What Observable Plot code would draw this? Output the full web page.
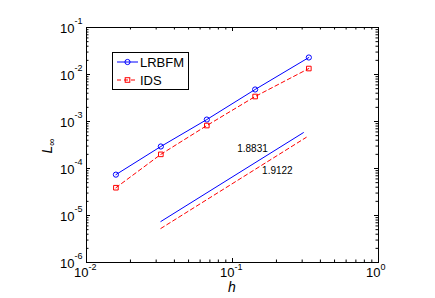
<!DOCTYPE html>
<html><head><meta charset="utf-8">
<script src="https://cdn.jsdelivr.net/npm/d3@7"></script>
<script src="https://cdn.jsdelivr.net/npm/@observablehq/plot@0.6"></script>
<style>body{margin:0;background:#fff}</style>
</head><body><div id="chart"></div>
<script>
// data
const h = [0.0159, 0.0323, 0.0667, 0.1429, 0.3333];
const LRBFM = [7.4e-5, 2.94e-4, 1.1e-3, 4.8e-3, 2.3e-2];
const IDS = [3.9e-5, 2.0e-4, 8.2e-4, 3.4e-3, 1.34e-2];
const slopeBlueX = [0.0323, 0.306];
const slopeBlueY = [7.45e-6, 5.8e-4];
const slopeRedX = [0.0323, 0.32];
const slopeRedY = [5.3e-6, 4.6e-4];
const slopeLabels = ["1.8831", "1.9122"];
const slopeLabelX = [0.137, 0.203];
const slopeLabelY = [2.67e-4, 9.0e-5];
const xMajor = [0.01, 0.1, 1];
const xExp = ["-2", "-1", "0"];
const yMajor = [1e-6, 1e-5, 1e-4, 1e-3, 1e-2, 1e-1];
const yExp = ["-6", "-5", "-4", "-3", "-2", "-1"];

const xMinor = [], yMinor = [];
for (const d of [0.01, 0.1]) for (let k = 2; k <= 9; k++) xMinor.push(d * k);
for (const d of [1e-6, 1e-5, 1e-4, 1e-3, 1e-2]) for (let k = 2; k <= 9; k++) yMinor.push(d * k);

const W = 435, H = 298, ML = 86, MR = 57, MT = 27, MB = 36;
const FW = W - ML - MR, FH = H - MT - MB;
const font = "'Liberation Sans', Arial, sans-serif";
const idx = d3.range(h.length);

const plot = Plot.plot({
  width: W, height: H,
  marginLeft: ML, marginRight: MR, marginTop: MT, marginBottom: MB,
  x: {type: "log", domain: [0.01, 1], axis: null},
  y: {type: "log", domain: [1e-6, 0.1], axis: null},
  style: {fontFamily: font, background: "white", color: "black"},
  marks: [
    Plot.tickX(xMajor, {x: d => d, insetTop: FH - 4, stroke: "black"}),
    Plot.tickX(xMajor, {x: d => d, insetBottom: FH - 4, stroke: "black"}),
    Plot.tickX(xMinor, {x: d => d, insetTop: FH - 2.5, stroke: "black"}),
    Plot.tickX(xMinor, {x: d => d, insetBottom: FH - 2.5, stroke: "black"}),
    Plot.tickY(yMajor, {y: d => d, insetRight: FW - 4, stroke: "black"}),
    Plot.tickY(yMajor, {y: d => d, insetLeft: FW - 4, stroke: "black"}),
    Plot.tickY(yMinor, {y: d => d, insetRight: FW - 2.5, stroke: "black"}),
    Plot.tickY(yMinor, {y: d => d, insetLeft: FW - 2.5, stroke: "black"}),
    Plot.frame({stroke: "black", strokeWidth: 1}),
    Plot.text(xMajor, {x: d => d, frameAnchor: "bottom", dy: 14, dx: 2, text: () => "10", textAnchor: "end", fontSize: 13, fill: "black"}),
    Plot.text(xMajor, {x: d => d, frameAnchor: "bottom", dy: 7, dx: 2, text: (d, i) => xExp[i], textAnchor: "start", fontSize: 9, fill: "black"}),
    Plot.text(yMajor, {y: d => d, frameAnchor: "left", dx: -12, dy: 1, text: () => "10", textAnchor: "end", fontSize: 13, fill: "black"}),
    Plot.text(yMajor, {y: d => d, frameAnchor: "left", dx: -12, dy: -6, text: (d, i) => yExp[i], textAnchor: "start", fontSize: 9, fill: "black"}),
    Plot.line(idx, {x: i => h[i], y: i => LRBFM[i], stroke: "#0000ff", strokeWidth: 1}),
    Plot.line(idx, {x: i => h[i], y: i => IDS[i], stroke: "#ff0000", strokeWidth: 1, strokeDasharray: "4,3"}),
    Plot.dot(idx, {x: i => h[i], y: i => LRBFM[i], r: 2.6, symbol: "circle", stroke: "#0000ff", fill: "none", strokeWidth: 1}),
    Plot.dot(idx, {x: i => h[i], y: i => IDS[i], r: 2.6, symbol: "square", stroke: "#ff0000", fill: "none", strokeWidth: 1}),
    Plot.line([0, 1], {x: i => slopeBlueX[i], y: i => slopeBlueY[i], stroke: "#0000ff", strokeWidth: 1}),
    Plot.line([0, 1], {x: i => slopeRedX[i], y: i => slopeRedY[i], stroke: "#ff0000", strokeWidth: 1, strokeDasharray: "4,3"}),
    Plot.text([0, 1], {x: i => slopeLabelX[i], y: i => slopeLabelY[i], text: i => slopeLabels[i], fontSize: 10, fill: "black"})
  ]
});
document.getElementById("chart").appendChild(plot);

const svg = d3.select(plot);
svg.append("text").attr("x", 232).attr("y", 292).attr("text-anchor", "middle")
  .attr("font-family", font).attr("font-size", 14).attr("font-style", "italic").text("h");
const yl = svg.append("text").attr("transform", "translate(52,146) rotate(-90)")
  .attr("text-anchor", "middle").attr("font-family", font).attr("font-size", 14).attr("font-style", "italic");
yl.append("tspan").text("L");
yl.append("tspan").attr("font-size", 10).attr("dy", 3).text("∞");

const lg = svg.append("g").attr("text-anchor", "start");
lg.append("rect").attr("x", 112.5).attr("y", 52.5).attr("width", 76).attr("height", 37)
  .attr("fill", "white").attr("stroke", "black").attr("stroke-width", 1);
lg.append("line").attr("x1", 117).attr("x2", 138).attr("y1", 62).attr("y2", 62).attr("stroke", "#0000ff");
lg.append("circle").attr("cx", 127.5).attr("cy", 62).attr("r", 2.6).attr("fill", "none").attr("stroke", "#0000ff");
lg.append("line").attr("x1", 117).attr("x2", 138).attr("y1", 80).attr("y2", 80).attr("stroke", "#ff0000").attr("stroke-dasharray", "4,3");
lg.append("rect").attr("x", 125.2).attr("y", 77.7).attr("width", 4.6).attr("height", 4.6).attr("fill", "none").attr("stroke", "#ff0000");
lg.append("text").attr("x", 140).attr("y", 62).attr("dy", "0.35em").attr("text-anchor", "start").attr("font-family", font).attr("font-size", 13).text("LRBFM");
lg.append("text").attr("x", 140).attr("y", 80).attr("dy", "0.35em").attr("text-anchor", "start").attr("font-family", font).attr("font-size", 13).text("IDS");
</script></body></html>
